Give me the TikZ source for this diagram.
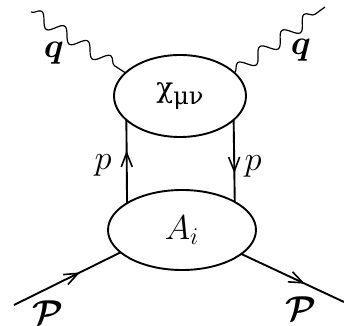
\documentclass[tikz,border=0pt]{standalone}
\usepackage{fontspec}
\usepackage{amsmath}
\usetikzlibrary{shapes.geometric, arrows.meta, decorations.pathmorphing, decorations.markings}
\newfontfamily\greekfont{DejaVu Serif}

\begin{document}
\begin{tikzpicture}[
      x=0.5pt, y=-0.5pt,
      blob/.style={ellipse, draw, line width=0.95pt, inner sep=0pt, outer sep=0pt,
                   font=\fontsize{17}{19}\selectfont},
      photon/.style={decorate, line width=0.6pt,
                     decoration={snake, segment length=13.7pt, amplitude=3.2pt}},
      fermion/.style={line width=0.95pt, postaction={decorate},
                      decoration={markings, mark=at position #1 with
                        {\arrow{Straight Barb[length=7pt, width=5.5pt, line width=0.8pt]}}}},
      lbl/.style={font=\fontsize{17}{19}\selectfont}
    ]
    \useasboundingbox (0,0) rectangle (344,326);
    % blobs
    \node[blob, minimum width=66pt, minimum height=41pt] (chi) at (180,96)
      {\greekfont\fontsize{14}{16}\selectfont χ\raisebox{-0.45ex}{\fontsize{12}{14}\selectfont μν}};
    \node[blob, minimum width=74pt, minimum height=40pt] (amp) at (182,230) {$A_i$};
    % free ends
    \coordinate (gl) at (31,12);
    \coordinate (gr) at (325,7);
    \coordinate (pin) at (14,305);
    \coordinate (pout) at (344,302);
    % photons
    \draw[photon] (gl) -- (chi.157.6);
    \draw[photon] (chi.23.6) -- (gr);
    % quark lines
    \draw[fermion=0.63] (amp.154) -- (chi.204.7);
    \draw[fermion=0.65] (chi.336.4) -- (amp.28.7);
    % hadron lines
    \draw[fermion=0.62] (pin) -- (amp.200.3);
    \draw[fermion=0.62] (amp.338.7) -- (pout);
    % labels
    \node[lbl] (ql) at (54,53) {$\boldsymbol{q}$};
    \node[lbl] (qr) at (301,50) {$\boldsymbol{q}$};
    \node[lbl] (pl) at (103,165) {$p$};
    \node[lbl] (pr) at (253,166) {$p$};
    \node[lbl, font=\fontsize{19}{21}\selectfont] (Pl) at (48,313) {$\boldsymbol{\mathcal{P}}$};
    \node[lbl, font=\fontsize{19}{21}\selectfont] (Pr) at (301,309) {$\boldsymbol{\mathcal{P}}$};
  \end{tikzpicture}
\end{document}
